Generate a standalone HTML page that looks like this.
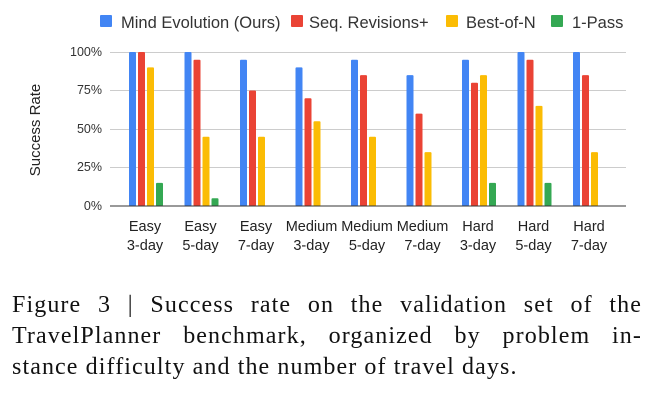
<!DOCTYPE html>
<html><head><meta charset="utf-8"><style>
body{margin:0;background:#fff;width:653px;height:400px;overflow:hidden;position:relative}
.cap{position:absolute;left:12px;width:630px;font-family:"Liberation Serif",serif;font-size:24px;letter-spacing:1.1px;color:#111;text-align:justify;text-align-last:justify;white-space:nowrap;line-height:31px}
</style></head><body>
<svg width="653" height="280" style="position:absolute;left:0;top:0" font-family="Liberation Sans, sans-serif">
<g font-size="16.5" fill="#333">
<rect x="100" y="15" width="12" height="12" fill="#4285f4" rx="1"/><text x="121" y="28">Mind Evolution (Ours)</text>
<rect x="291" y="15" width="12" height="12" fill="#ea4335" rx="1"/><text x="309" y="28">Seq. Revisions+</text>
<rect x="446" y="15" width="12" height="12" fill="#fbbc04" rx="1"/><text x="466" y="28">Best-of-N</text>
<rect x="551" y="15" width="12" height="12" fill="#34a853" rx="1"/><text x="572" y="28">1-Pass</text>
</g>
<g stroke="#ccc" stroke-width="1">
<line x1="110" x2="626" y1="52.5" y2="52.5"/><line x1="110" x2="626" y1="90.5" y2="90.5"/><line x1="110" x2="626" y1="129.5" y2="129.5"/><line x1="110" x2="626" y1="167.5" y2="167.5"/>
</g>
<g font-size="12.5" fill="#333" text-anchor="end">
<text x="102" y="56">100%</text><text x="102" y="94">75%</text><text x="102" y="133">50%</text><text x="102" y="171">25%</text><text x="102" y="210">0%</text>
</g>
<text transform="translate(40,130) rotate(-90)" font-size="15" fill="#222" text-anchor="middle">Success Rate</text>
<g id="bars"></g>
<line x1="110" x2="626" y1="206" y2="206" stroke="#333" stroke-width="1"/>
<g id="labels" font-size="14.5" fill="#222" text-anchor="middle"></g>
</svg>
<div class="cap" style="top:290px">Figure 3 | Success rate on the validation set of the</div>
<div class="cap" style="top:321px">TravelPlanner benchmark, organized by problem in-</div>
<div class="cap" style="top:352px;text-align-last:left;width:auto">stance difficulty and the number of travel days.</div>
<script>
var d=[[100,100,90,15],[100,95,45,5],[95,75,45,0],[90,70,55,0],[95,85,45,0],[85,60,35,0],[95,80,85,15],[100,95,65,15],[100,85,35,0]];
var L=[["Easy","3-day"],["Easy","5-day"],["Easy","7-day"],["Medium","3-day"],["Medium","5-day"],["Medium","7-day"],["Hard","3-day"],["Hard","5-day"],["Hard","7-day"]];
var c=["#4285f4","#ea4335","#fbbc04","#34a853"],off=[-16,-7,2,11],s="",t="";
for(var i=0;i<9;i++){var cx=145+i*55.5;
for(var j=0;j<4;j++){var v=d[i][j];if(!v)continue;var h=v*1.54;
s+='<rect x="'+(cx+off[j])+'" y="'+(206-h)+'" width="7" height="'+h+'" fill="'+c[j]+'" rx="1"/>';}
t+='<text x="'+cx+'" y="231">'+L[i][0]+'</text><text x="'+cx+'" y="250">'+L[i][1]+'</text>';}
document.getElementById('bars').innerHTML=s;document.getElementById('labels').innerHTML=t;
</script>
</body></html>
